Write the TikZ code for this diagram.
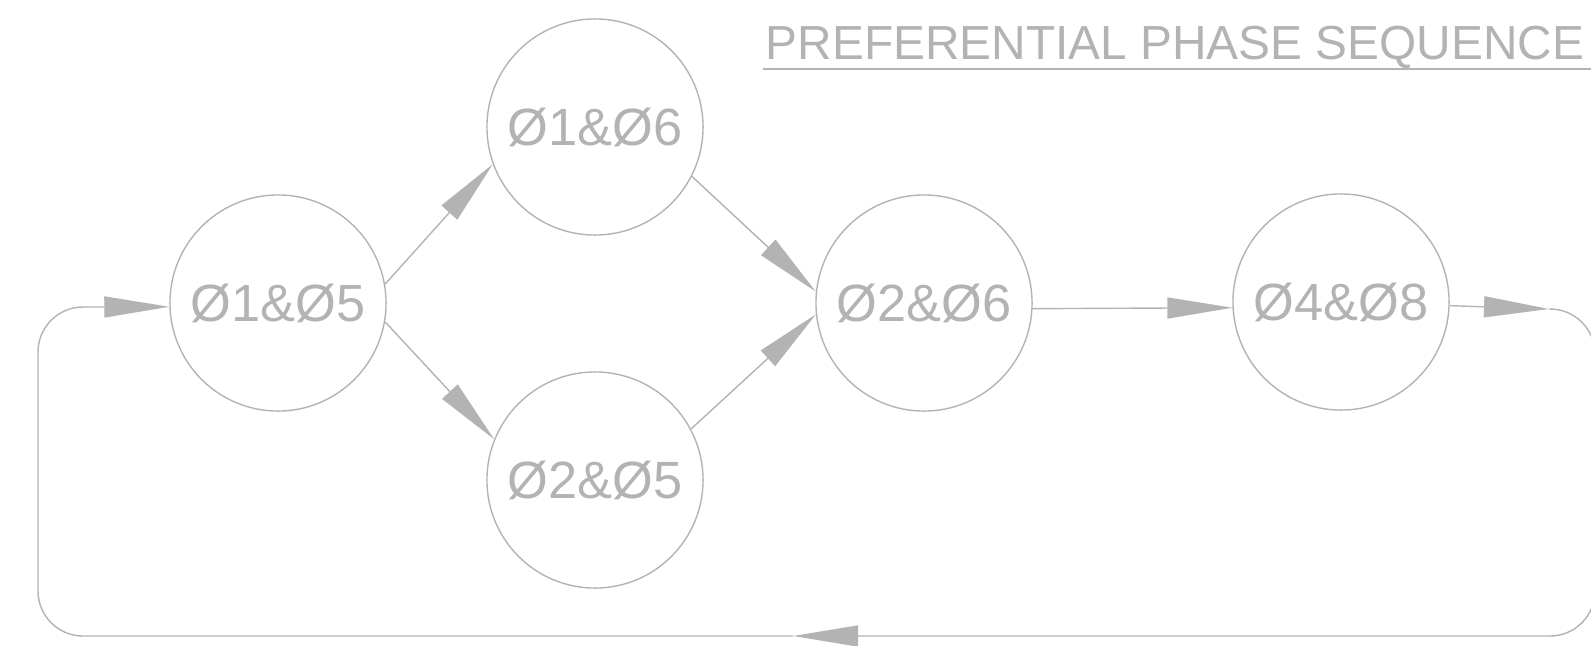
\documentclass[tikz,border=0pt]{standalone}
\usepackage{fontspec}
\setmainfont{Liberation Sans}
\usetikzlibrary{arrows.meta}
\definecolor{phasegray}{HTML}{B3B3B3}

\begin{document}
\begin{tikzpicture}[x=0.01cm,y=-0.01cm]
\tikzstyle{every node}=[text=phasegray]
\tikzstyle{phase}=[circle, draw=phasegray, line width=0.4pt, minimum size=2.16cm, inner sep=0pt, font=\fontsize{14.9}{18}\selectfont]
\tikzstyle{flow}=[draw=phasegray, line width=0.4pt, -{Triangle[length=0.65cm,width=0.21cm]}]
\tikzstyle{loop}=[draw=phasegray, line width=0.4pt, rounded corners=0.45cm]
\useasboundingbox (0,0) rectangle (1591,645);

\node[font=\fontsize{13.6}{16}\selectfont, anchor=base west, inner sep=0pt] (title) at (765,59) {PREFERENTIAL PHASE SEQUENCE};
\draw[phasegray, line width=0.4pt] (763,69) -- (1591,69);

\node[phase] (o15) at (278,303) {Ø1\&Ø5};
\node[phase] (o16) at (595,127) {Ø1\&Ø6};
\node[phase] (o25) at (595,480) {Ø2\&Ø5};
\node[phase] (o26) at (924,303) {Ø2\&Ø6};
\node[phase] (o48) at (1341,302) {Ø4\&Ø8};

\coordinate (loopin) at (1549,309);
\coordinate (loopNE) at (1595,309);
\coordinate (loopSE) at (1595,636);
\coordinate (loopmid) at (793,636);
\coordinate (loopSW) at (38,636);
\coordinate (loopNW) at (38,307);
\coordinate (loopout) at (85,307);

\draw[flow] (o15.10) -- (o16.200);
\draw[flow] (o15.-10) -- (o25.158);
\draw[flow] (o16.-27) -- (o26.174);
\draw[flow] (o25.28) -- (o26.186);
\draw[flow] (o26.-3) -- (o48.183);

% return path
\draw[flow] (o48) -- (loopin);
\draw[loop, flow] (loopin) -- (loopNE) -- (loopSE) -- (loopmid);
\draw[loop] (loopmid) -- (loopSW) -- (loopNW) -- (loopout);
\draw[flow] (loopout) -- (o15.182);
\end{tikzpicture}
\end{document}
